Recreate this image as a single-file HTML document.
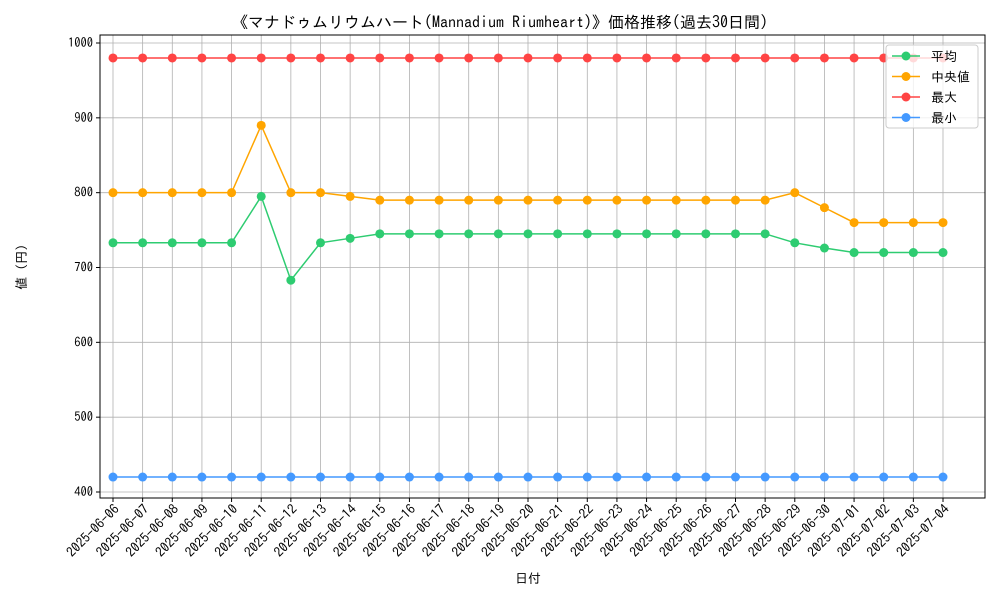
<!DOCTYPE html>
<html><head><meta charset="utf-8"><style>
body{margin:0;background:#fff;font-family:"IPAGothic","Noto Sans CJK JP",sans-serif;}
svg text{font-family:"IPAGothic","Noto Sans CJK JP",sans-serif;}
</style></head><body>
<svg id="chart" width="1000" height="600">
<text x="500" y="28" text-anchor="middle" font-size="16">《マナドゥムリウムハート(Mannadium Riumheart)》価格推移(過去30日間)</text>
<g id="grid"></g><g id="axes"></g><g id="series"></g><g id="legend"></g>
<text x="528" y="583" text-anchor="middle" font-size="13">日付</text>
<text transform="translate(26,267) rotate(-90)" text-anchor="middle" font-size="13">値 (円)</text>
</svg>
<script>
const dates=["2025-06-06","2025-06-07","2025-06-08","2025-06-09","2025-06-10","2025-06-11","2025-06-12","2025-06-13","2025-06-14","2025-06-15","2025-06-16","2025-06-17","2025-06-18","2025-06-19","2025-06-20","2025-06-21","2025-06-22","2025-06-23","2025-06-24","2025-06-25","2025-06-26","2025-06-27","2025-06-28","2025-06-29","2025-06-30","2025-07-01","2025-07-02","2025-07-03","2025-07-04"];
const meanVals=[733,733,733,733,733,795,683,733,739,745,745,745,745,745,745,745,745,745,745,745,745,745,745,733,726,720,720,720,720];
const medianVals=[800,800,800,800,800,890,800,800,795,790,790,790,790,790,790,790,790,790,790,790,790,790,790,800,780,760,760,760,760];
const maxVals=[980,980,980,980,980,980,980,980,980,980,980,980,980,980,980,980,980,980,980,980,980,980,980,980,980,980,980,980,980];
const minVals=[420,420,420,420,420,420,420,420,420,420,420,420,420,420,420,420,420,420,420,420,420,420,420,420,420,420,420,420,420];
const yTicks=[400,500,600,700,800,900,1000];
const seriesNames=["平均","中央値","最大","最小"];
const colors=["#2ecc71","#ffa500","#ff4444","#4499ff"];
const NS="http://www.w3.org/2000/svg";
const L=100,R=985,T=35,B=498;
const x=i=>113+i*(943-113)/(dates.length-1);
const y=v=>492-(v-400)*(492-43)/600;
function mk(tag,attrs,parent){const e=document.createElementNS(NS,tag);for(const k in attrs)e.setAttribute(k,attrs[k]);parent.appendChild(e);return e;}
const grid=document.getElementById('grid'),axes=document.getElementById('axes'),ser=document.getElementById('series'),leg=document.getElementById('legend');
dates.forEach((d,i)=>{
 const g=mk('line',{x1:x(i),x2:x(i),y1:T,y2:B,stroke:'#b0b0b0','stroke-width':0.8},grid);
 
 mk('line',{x1:x(i),x2:x(i),y1:B,y2:B+4,stroke:'#000'},axes);
 const t=mk('text',{x:x(i)+7,y:B+12,'font-size':13.5,'text-anchor':'end',transform:`rotate(-45 ${x(i)+7} ${B+12})`},axes);
 t.textContent=d;
 
});
yTicks.forEach(v=>{
 const g=mk('line',{x1:L,x2:R,y1:y(v),y2:y(v),stroke:'#b0b0b0','stroke-width':0.8},grid);
 
 mk('line',{x1:L-4,x2:L,y1:y(v),y2:y(v),stroke:'#000'},axes);
 const t=mk('text',{x:L-7,y:y(v)+4,'font-size':12.5,'text-anchor':'end'},axes);
 t.textContent=v;
 
});
const fr=mk('rect',{x:L,y:T,width:R-L,height:B-T,fill:'none',stroke:'#000','stroke-width':1},axes);

[meanVals,medianVals,maxVals,minVals].forEach((vals,s)=>{
 const p=mk('polyline',{points:vals.map((v,i)=>x(i)+','+y(v)).join(' '),fill:'none',stroke:colors[s],'stroke-width':1.5},ser);
 
 vals.forEach((v,i)=>{const c=mk('circle',{cx:x(i),cy:y(v),r:4.5,fill:colors[s]},ser);
 });
});
const lb=mk('rect',{x:886,y:45,width:92,height:83,rx:3,fill:'rgba(255,255,255,0.8)',stroke:'#ccc'},leg);

seriesNames.forEach((n,s)=>{
 const yy=56+s*20.5;
 mk('line',{x1:892,x2:920,y1:yy,y2:yy,stroke:colors[s],'stroke-width':1.5},leg);
 mk('circle',{cx:906,cy:yy,r:4.5,fill:colors[s]},leg);
 const t=mk('text',{x:931,y:yy+5,'font-size':13},leg);t.textContent=n;
 
});
</script>
</body></html>
